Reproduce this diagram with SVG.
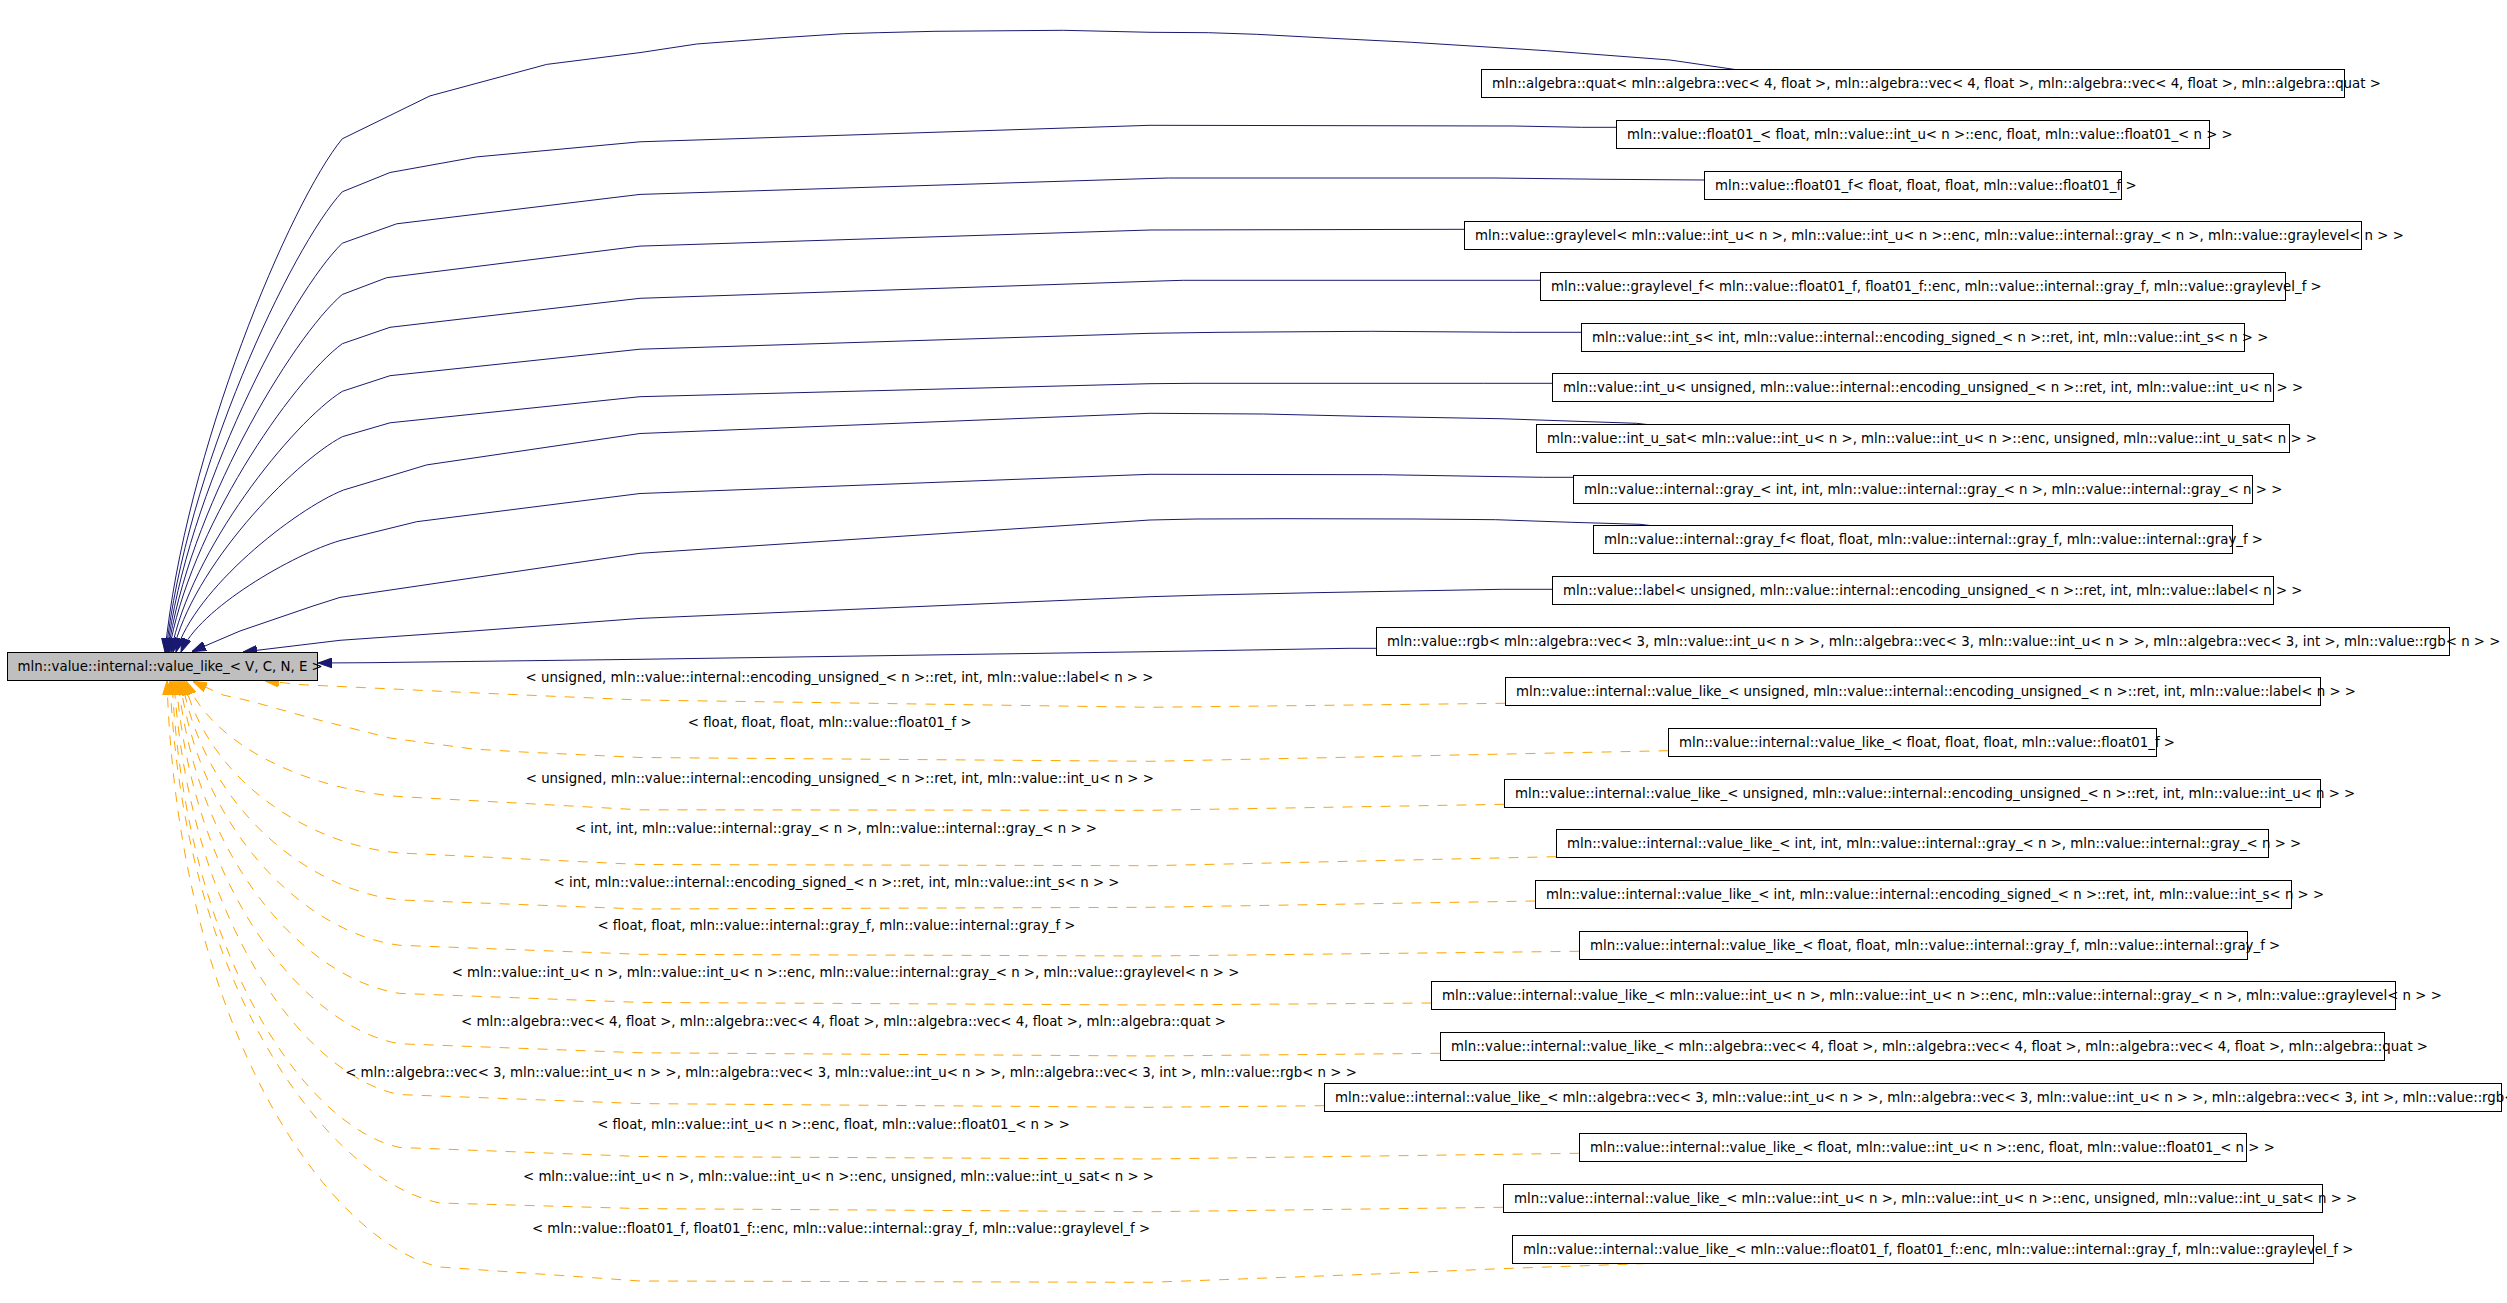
<svg xmlns="http://www.w3.org/2000/svg" width="2507" height="1303" viewBox="0 0 2507 1303">
<style>
text{font-family:"DejaVu Sans","Liberation Sans",sans-serif;font-size:13.33px;fill:#000}
.box{fill:#fff;stroke:#000;stroke-width:1}
.root{fill:#bfbfbf;stroke:#000;stroke-width:1}
.inh{fill:none;stroke:#191970;stroke-width:1;marker-end:url(#an)}
.tpl{fill:none;stroke:#ffa500;stroke-width:1;stroke-dasharray:10,9;marker-end:url(#ao)}
.lbl{text-anchor:middle}
</style>
<defs>
<marker id="an" markerUnits="userSpaceOnUse" markerWidth="14" markerHeight="10" viewBox="0 0 13 9" refX="13" refY="4.5" orient="auto"><path d="M0,0L13,4.5L0,9z" fill="#191970" stroke="#191970"/></marker>
<marker id="ao" markerUnits="userSpaceOnUse" markerWidth="14" markerHeight="10" viewBox="0 0 13 9" refX="13" refY="4.5" orient="auto"><path d="M0,0L13,4.5L0,9z" fill="#ffa500" stroke="#ffa500"/></marker>
</defs>
<rect x="0" y="0" width="2507" height="1303" fill="#fff"/>
<g id="connectors">
<path class="inh" d="M1735,69.5L1670,60L1546.7,50.7L1411.7,42.3L1331.7,38.3L1256.7,34.3L1208.3,32.7L1150,32.3L1063.3,30.3L935,31.3L878.3,32.7L843.3,33.7L776.7,38L696.7,44L640,52.6L546.7,64.4L430,95.9L342.3,138.8C291,200.5 184.5,452 165,652"/>
<path class="inh" d="M1616.5,127.3L1581.7,127.3L1513.3,126L1150,125.3L640,141.8L476.7,156.9L390,172.5L342.3,191.8C291.2,247 185.4,472.5 166,652"/>
<path class="inh" d="M1704.5,180L1605,179.3L1495,178L1168.3,178L1150,178.5L640,194.4L396.7,223.8L342.3,243.2C291.5,292.3 186.3,492.6 167,652"/>
<path class="inh" d="M1464.5,229.3L1150,230L640,246.1L386.7,277.7L342.3,294.5C291.8,337.4 187.2,512.6 168,652"/>
<path class="inh" d="M1540.5,280.3L1183.3,280.3L1150,281.3L640,298.3L390,327.3L342.3,343.7C292,380.7 188.1,531.8 169,652"/>
<path class="inh" d="M1581.5,332.3L1513.3,332.3L1371.7,331.3L1220,332.3L1150,333.3L640,349.2L390,375.7L342.3,391.3C292.6,422.6 189.8,550.3 171,652"/>
<path class="inh" d="M1552.5,383.3L1483.3,383.3L1195,383.3L1150,383.7L640,396.7L390,422.8L342.3,436.7C293.2,462.5 191.6,568 173,652"/>
<path class="inh" d="M1647,424.5L1636.7,423.3L1500,418.7L1363.3,416.3L1263.3,414L1150,413.3L640,433.5L426.7,464.9L343.3,490.1C294.8,509.5 194.4,588.9 176,652"/>
<path class="inh" d="M1573.5,477.3L1543.3,477.3L1480,476.3L1383.3,474.7L1150,474.3L640,493.5L416.7,521.7L340,540.6C293.9,554 198.5,608.6 181,652"/>
<path class="inh" d="M1650,525.5L1640,524.3L1571.7,522.3L1533,521L1495.7,519.7L1415,519L1286,518.7L1196,519L1150,520L640,553.3L340,597.4L313,606L240,631L192,651.5"/>
<path class="inh" d="M1552.5,589.3L1502.3,589.3L1425,590.7L1315,592.7L1208.3,595L1150,596.7L640,618.4L473,631L340,640.3L243,652"/>
<path class="inh" d="M1376.5,648.3L1349,648.3L1210,650.7L1150,651.7L640,659.3L370,662.7L318,663"/>
<path class="tpl" d="M1505.5,703.3L1150,707.3L640,700L473,692.8L300,684.6L265,680.8"/>
<path class="tpl" d="M1668.5,750.7L1150,761.3L640,757.5L523,752L473,749L390,738L307,717L250,701L223,695L193,681.5"/>
<path class="tpl" d="M1504.5,804.3L1150,810.3L640,809.8L407,797C318.6,792.4 214.7,750.6 186,681"/>
<path class="tpl" d="M1556.5,856.7L1150,865.7L640,864.5L400,853C313.6,846.1 209.9,784.2 184,681"/>
<path class="tpl" d="M1535.5,901L1150,907.3L640,909L400,900C312.8,891.2 206,812.4 182,681"/>
<path class="tpl" d="M1579.5,951.3L1150,956L640,954.3L400,945.3C312,934.7 202,839.6 180,681"/>
<path class="tpl" d="M1431.5,1003L1150,1005L640,1002.4L400,993.4C311.2,980.9 198,868.4 178,681"/>
<path class="tpl" d="M1440.5,1053.3L1150,1056L640,1052.8L400,1043.8C310.4,1029.3 193.9,898.7 176,681"/>
<path class="tpl" d="M1324.5,1105.7L1150,1107.3L640,1103.6L400,1094.6C309.6,1078.1 189.8,929.2 174,681"/>
<path class="tpl" d="M1579.5,1153.3L1150,1159L640,1156.5L400,1147.5C308.8,1128.8 185.7,960.9 172,681"/>
<path class="tpl" d="M1503.5,1207.3L1150,1211.7L640,1208.6L440,1203C332,1182.1 183.5,994.2 170,681"/>
<path class="tpl" d="M1646.7,1263.5L1500,1268.7L1383.3,1273.7L1150,1282.3L640,1281L440,1267C330.8,1243.6 177.9,1032.6 167,681"/>
<text class="lbl" x="839.5" y="681.5">&lt; unsigned, mln::value::internal::encoding_unsigned_&lt; n &gt;::ret, int, mln::value::label&lt; n &gt; &gt;</text>
<text class="lbl" x="829.7" y="726.7">&lt; float, float, float, mln::value::float01_f &gt;</text>
<text class="lbl" x="839.8" y="782.8">&lt; unsigned, mln::value::internal::encoding_unsigned_&lt; n &gt;::ret, int, mln::value::int_u&lt; n &gt; &gt;</text>
<text class="lbl" x="836" y="832.8">&lt; int, int, mln::value::internal::gray_&lt; n &gt;, mln::value::internal::gray_&lt; n &gt; &gt;</text>
<text class="lbl" x="836.5" y="886.8">&lt; int, mln::value::internal::encoding_signed_&lt; n &gt;::ret, int, mln::value::int_s&lt; n &gt; &gt;</text>
<text class="lbl" x="836.5" y="930.2">&lt; float, float, mln::value::internal::gray_f, mln::value::internal::gray_f &gt;</text>
<text class="lbl" x="845.5" y="976.8">&lt; mln::value::int_u&lt; n &gt;, mln::value::int_u&lt; n &gt;::enc, mln::value::internal::gray_&lt; n &gt;, mln::value::graylevel&lt; n &gt; &gt;</text>
<text class="lbl" x="843.5" y="1026.2">&lt; mln::algebra::vec&lt; 4, float &gt;, mln::algebra::vec&lt; 4, float &gt;, mln::algebra::vec&lt; 4, float &gt;, mln::algebra::quat &gt;</text>
<text class="lbl" x="851" y="1076.5">&lt; mln::algebra::vec&lt; 3, mln::value::int_u&lt; n &gt; &gt;, mln::algebra::vec&lt; 3, mln::value::int_u&lt; n &gt; &gt;, mln::algebra::vec&lt; 3, int &gt;, mln::value::rgb&lt; n &gt; &gt;</text>
<text class="lbl" x="833.5" y="1128.5">&lt; float, mln::value::int_u&lt; n &gt;::enc, float, mln::value::float01_&lt; n &gt; &gt;</text>
<text class="lbl" x="838.5" y="1180.5">&lt; mln::value::int_u&lt; n &gt;, mln::value::int_u&lt; n &gt;::enc, unsigned, mln::value::int_u_sat&lt; n &gt; &gt;</text>
<text class="lbl" x="841" y="1232.5">&lt; mln::value::float01_f, float01_f::enc, mln::value::internal::gray_f, mln::value::graylevel_f &gt;</text>
</g>
<g id="node_root"><rect class="root" x="7.5" y="652.5" width="310" height="28"/><text x="17.5" y="670.5">mln::value::internal::value_like_&lt; V, C, N, E &gt;</text></g>
<g id="node0"><rect class="box" x="1481.5" y="69.5" width="863" height="28"/><text x="1492" y="87.5">mln::algebra::quat&lt; mln::algebra::vec&lt; 4, float &gt;, mln::algebra::vec&lt; 4, float &gt;, mln::algebra::vec&lt; 4, float &gt;, mln::algebra::quat &gt;</text></g>
<g id="node1"><rect class="box" x="1616.5" y="120.5" width="593" height="28"/><text x="1627" y="138.5">mln::value::float01_&lt; float, mln::value::int_u&lt; n &gt;::enc, float, mln::value::float01_&lt; n &gt; &gt;</text></g>
<g id="node2"><rect class="box" x="1704.5" y="171.5" width="417" height="28"/><text x="1715" y="189.5">mln::value::float01_f&lt; float, float, float, mln::value::float01_f &gt;</text></g>
<g id="node3"><rect class="box" x="1464.5" y="221.5" width="897" height="28"/><text x="1475" y="239.5">mln::value::graylevel&lt; mln::value::int_u&lt; n &gt;, mln::value::int_u&lt; n &gt;::enc, mln::value::internal::gray_&lt; n &gt;, mln::value::graylevel&lt; n &gt; &gt;</text></g>
<g id="node4"><rect class="box" x="1540.5" y="272.5" width="745" height="28"/><text x="1551" y="290.5">mln::value::graylevel_f&lt; mln::value::float01_f, float01_f::enc, mln::value::internal::gray_f, mln::value::graylevel_f &gt;</text></g>
<g id="node5"><rect class="box" x="1581.5" y="323.5" width="663" height="28"/><text x="1592" y="341.5">mln::value::int_s&lt; int, mln::value::internal::encoding_signed_&lt; n &gt;::ret, int, mln::value::int_s&lt; n &gt; &gt;</text></g>
<g id="node6"><rect class="box" x="1552.5" y="373.5" width="721" height="28"/><text x="1563" y="391.5">mln::value::int_u&lt; unsigned, mln::value::internal::encoding_unsigned_&lt; n &gt;::ret, int, mln::value::int_u&lt; n &gt; &gt;</text></g>
<g id="node7"><rect class="box" x="1536.5" y="424.5" width="753" height="28"/><text x="1547" y="442.5">mln::value::int_u_sat&lt; mln::value::int_u&lt; n &gt;, mln::value::int_u&lt; n &gt;::enc, unsigned, mln::value::int_u_sat&lt; n &gt; &gt;</text></g>
<g id="node8"><rect class="box" x="1573.5" y="475.5" width="679" height="28"/><text x="1584" y="493.5">mln::value::internal::gray_&lt; int, int, mln::value::internal::gray_&lt; n &gt;, mln::value::internal::gray_&lt; n &gt; &gt;</text></g>
<g id="node9"><rect class="box" x="1593.5" y="525.5" width="639" height="28"/><text x="1604" y="543.5">mln::value::internal::gray_f&lt; float, float, mln::value::internal::gray_f, mln::value::internal::gray_f &gt;</text></g>
<g id="node10"><rect class="box" x="1552.5" y="576.5" width="721" height="28"/><text x="1563" y="594.5">mln::value::label&lt; unsigned, mln::value::internal::encoding_unsigned_&lt; n &gt;::ret, int, mln::value::label&lt; n &gt; &gt;</text></g>
<g id="node11"><rect class="box" x="1376.5" y="627.5" width="1073" height="28"/><text x="1387" y="645.5">mln::value::rgb&lt; mln::algebra::vec&lt; 3, mln::value::int_u&lt; n &gt; &gt;, mln::algebra::vec&lt; 3, mln::value::int_u&lt; n &gt; &gt;, mln::algebra::vec&lt; 3, int &gt;, mln::value::rgb&lt; n &gt; &gt;</text></g>
<g id="node12"><rect class="box" x="1505.5" y="677.5" width="815" height="28"/><text x="1516" y="695.5">mln::value::internal::value_like_&lt; unsigned, mln::value::internal::encoding_unsigned_&lt; n &gt;::ret, int, mln::value::label&lt; n &gt; &gt;</text></g>
<g id="node13"><rect class="box" x="1668.5" y="728.5" width="488" height="28"/><text x="1679" y="746.5">mln::value::internal::value_like_&lt; float, float, float, mln::value::float01_f &gt;</text></g>
<g id="node14"><rect class="box" x="1504.5" y="779.5" width="816" height="28"/><text x="1515" y="797.5">mln::value::internal::value_like_&lt; unsigned, mln::value::internal::encoding_unsigned_&lt; n &gt;::ret, int, mln::value::int_u&lt; n &gt; &gt;</text></g>
<g id="node15"><rect class="box" x="1556.5" y="829.5" width="712" height="28"/><text x="1567" y="847.5">mln::value::internal::value_like_&lt; int, int, mln::value::internal::gray_&lt; n &gt;, mln::value::internal::gray_&lt; n &gt; &gt;</text></g>
<g id="node16"><rect class="box" x="1535.5" y="880.5" width="756" height="28"/><text x="1546" y="898.5">mln::value::internal::value_like_&lt; int, mln::value::internal::encoding_signed_&lt; n &gt;::ret, int, mln::value::int_s&lt; n &gt; &gt;</text></g>
<g id="node17"><rect class="box" x="1579.5" y="931.5" width="668" height="28"/><text x="1590" y="949.5">mln::value::internal::value_like_&lt; float, float, mln::value::internal::gray_f, mln::value::internal::gray_f &gt;</text></g>
<g id="node18"><rect class="box" x="1431.5" y="981.5" width="964" height="28"/><text x="1442" y="999.5">mln::value::internal::value_like_&lt; mln::value::int_u&lt; n &gt;, mln::value::int_u&lt; n &gt;::enc, mln::value::internal::gray_&lt; n &gt;, mln::value::graylevel&lt; n &gt; &gt;</text></g>
<g id="node19"><rect class="box" x="1440.5" y="1032.5" width="944" height="28"/><text x="1451" y="1050.5">mln::value::internal::value_like_&lt; mln::algebra::vec&lt; 4, float &gt;, mln::algebra::vec&lt; 4, float &gt;, mln::algebra::vec&lt; 4, float &gt;, mln::algebra::quat &gt;</text></g>
<g id="node20"><rect class="box" x="1324.5" y="1083.5" width="1177" height="28"/><text x="1335" y="1101.5">mln::value::internal::value_like_&lt; mln::algebra::vec&lt; 3, mln::value::int_u&lt; n &gt; &gt;, mln::algebra::vec&lt; 3, mln::value::int_u&lt; n &gt; &gt;, mln::algebra::vec&lt; 3, int &gt;, mln::value::rgb&lt; n &gt; &gt;</text></g>
<g id="node21"><rect class="box" x="1579.5" y="1133.5" width="667" height="28"/><text x="1590" y="1151.5">mln::value::internal::value_like_&lt; float, mln::value::int_u&lt; n &gt;::enc, float, mln::value::float01_&lt; n &gt; &gt;</text></g>
<g id="node22"><rect class="box" x="1503.5" y="1184.5" width="819" height="28"/><text x="1514" y="1202.5">mln::value::internal::value_like_&lt; mln::value::int_u&lt; n &gt;, mln::value::int_u&lt; n &gt;::enc, unsigned, mln::value::int_u_sat&lt; n &gt; &gt;</text></g>
<g id="node23"><rect class="box" x="1512.5" y="1235.5" width="801" height="28"/><text x="1523" y="1253.5">mln::value::internal::value_like_&lt; mln::value::float01_f, float01_f::enc, mln::value::internal::gray_f, mln::value::graylevel_f &gt;</text></g>
</svg>
